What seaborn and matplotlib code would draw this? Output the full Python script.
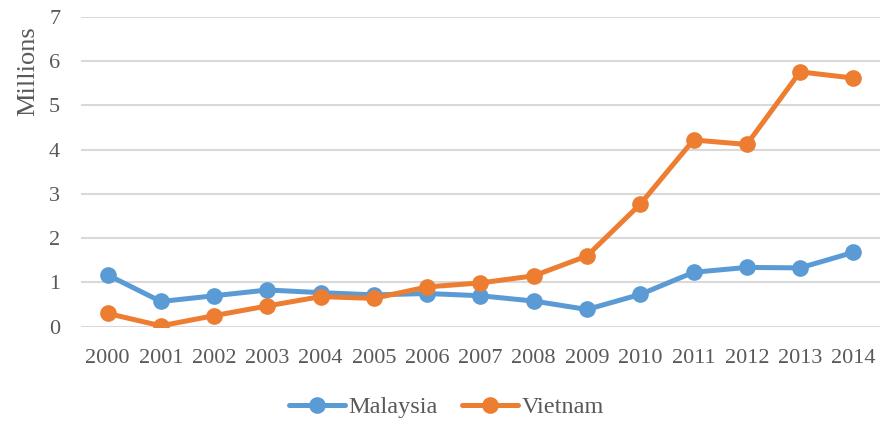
import matplotlib
matplotlib.use("Agg")
import matplotlib.pyplot as plt
import pandas as pd
import seaborn as sns

# Values (millions)
years = list(range(2000, 2015))
malaysia = [1.17, 0.57, 0.70, 0.83, 0.77, 0.72, 0.75, 0.70, 0.58, 0.39, 0.73, 1.23, 1.34, 1.33, 1.68]
vietnam = [0.30, 0.02, 0.25, 0.47, 0.68, 0.64, 0.90, 0.99, 1.15, 1.60, 2.77, 4.22, 4.12, 5.76, 5.62]
countries = ["Malaysia", "Vietnam"]
colors = ["#5B9BD5", "#ED7D31"]

# Long-form table for seaborn
df = pd.DataFrame({
    "Year": years * 2,
    "Value": malaysia + vietnam,
    "Country": [countries[0]] * len(years) + [countries[1]] * len(years),
})

sns.set_theme(style="white")
plt.rcParams["font.family"] = ["Liberation Serif", "DejaVu Serif"]
text_color = "#595959"

fig = plt.figure(figsize=(8.93, 4.22), dpi=100)
ax = fig.add_axes([0.0907, 0.2258, 0.8947, 0.7339])

sns.lineplot(data=df, x="Year", y="Value", hue="Country", hue_order=countries,
             palette=colors, marker="o", markersize=12, markeredgewidth=0,
             linewidth=3.6, ax=ax, legend=True)

# Axes styling (Excel look)
ax.set_xlim(1999.5, 2014.5)
ax.set_ylim(0, 7)
ax.set_xticks(years)
ax.set_xticklabels([str(y) for y in years])
ax.set_yticks(range(0, 8))
for side in ax.spines.values():
    side.set_visible(False)
ax.yaxis.grid(True, color="#D9D9D9", linewidth=1.5)
ax.xaxis.grid(False)
ax.set_axisbelow(True)
ax.tick_params(axis="both", length=0, labelsize=16, colors=text_color)
ax.tick_params(axis="y", pad=15)
ax.tick_params(axis="x", pad=16)
ax.set_xlabel("")
ax.set_ylabel("")

# y-axis title near the top like the original
fig.text(0.032, 0.832, "Millions", rotation=90, ha="center", va="center",
         fontsize=19, color=text_color)

# Legend at the bottom centre
handles, labels = ax.get_legend_handles_labels()
ax.legend_.remove()
leg = fig.legend(handles, labels, loc="center", bbox_to_anchor=(0.5, 0.035),
                 ncol=2, frameon=False, fontsize=17.5, handlelength=2.3,
                 handletextpad=0.15, columnspacing=1.0, markerscale=1.0)
for t in leg.get_texts():
    t.set_color(text_color)

fig.savefig("out.png", dpi=100)
